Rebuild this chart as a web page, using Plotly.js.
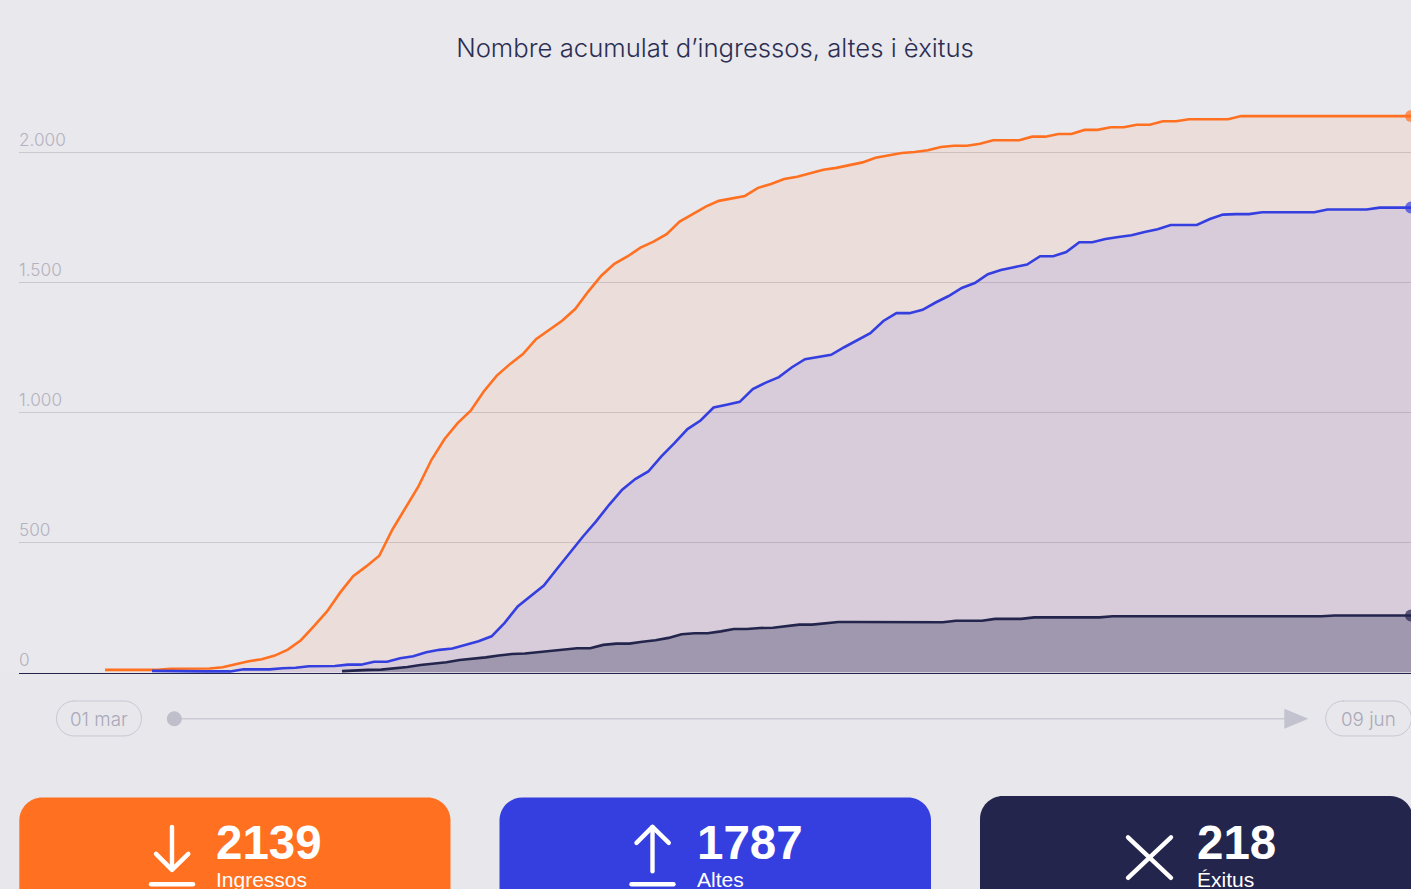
<!DOCTYPE html>
<html>
<head>
<meta charset="utf-8">
<script src="https://cdn.plot.ly/plotly-3.0.1.min.js"></script>
<style>
html,body{margin:0;padding:0;background:#E9E8ED;overflow:hidden}
#chart{width:1411px;height:889px}
.shapelayer path{stroke-linecap:round;stroke-linejoin:round}
</style>
</head>
<body>
<div id="chart"></div>
<script>
const chartTitle = "Nombre acumulat d’ingressos, altes i èxitus";
const dateLabels = ["01 mar", "09 jun"];
const yTicks = [0, 500, 1000, 1500, 2000];

const seriesNames = ["Ingressos", "Altes", "Èxitus"];
const totals = [2139, 1787, 218];
const cardLabels = ["Ingressos", "Altes", "Éxitus"];

// day offsets from 1 March at which each series starts
const ingressosStart = 0;
const altesStart = 3.6;
const exitusStart = 18.15;
const lastDay = 100;

const ingressos = [9,9,9,9,9,13,14,14,14,19,31,42,50,64,87,123,177,234,306,369,407,448,548,633,715,817,897,958,1006,1080,1141,1185,1224,1281,1317,1352,1397,1464,1525,1571,1599,1633,1656,1685,1733,1763,1791,1813,1823,1832,1863,1878,1897,1906,1919,1933,1940,1951,1961,1979,1988,1997,2001,2008,2020,2025,2025,2033,2046,2046,2046,2060,2060,2070,2070,2086,2086,2096,2096,2106,2106,2119,2119,2127,2127,2127,2127,2139,2139,2139,2139,2139,2139,2139,2139,2139,2139,2139,2139,2139];
const altes = [5,4,3,3,3,3,3,11,11,11,15,17,23,23,24,29,29,40,40,54,61,77,86,91,104,119,138,190,253,292,333,397,461,522,580,644,702,743,772,830,881,935,968,1018,1029,1040,1089,1114,1135,1173,1204,1213,1221,1250,1276,1304,1351,1381,1381,1394,1422,1447,1478,1497,1531,1547,1558,1568,1600,1600,1616,1654,1654,1666,1674,1681,1693,1704,1720,1720,1720,1743,1760,1762,1762,1769,1769,1769,1769,1769,1780,1780,1780,1780,1787,1787,1787];
const exitus = [4,7,9,10,14,20,28,32,38,47,51,57,64,70,72,77,82,87,92,92,105,110,110,117,123,132,146,150,150,157,166,166,170,171,176,183,183,188,193,193,193,193,192,192,192,192,192,198,198,198,205,205,205,211,211,211,211,211,211,215,215,215,215,215,215,215,215,215,215,215,215,215,215,215,215,215,218,218,218,218,218,218];

const ORANGE = "#FF7021", BLUE = "#353FE0", NAVY = "#23254D";
const W = 1411, H = 889;
const M = {l: 19, r: 0, t: 90, b: 215.5};
const PW = W - M.l - M.r, PH = H - M.t - M.b;
const px = x => (x - M.l) / PW;
const py = y => 1 - (y - M.t) / PH;
const P = (x, y) => px(x).toFixed(5) + "," + py(y).toFixed(5);

function daysFrom(start, n) {
  const out = [];
  for (let i = 0; i < n; i++) out.push(start + i);
  return out;
}
function lineTrace(name, start, values, color, fill) {
  let xs = daysFrom(start, values.length);
  let ys = values.slice();
  if (xs[xs.length - 1] < lastDay) { xs.push(lastDay); ys.push(values[values.length - 1]); }
  const sizes = ys.map((_, i) => i === ys.length - 1 ? 12 : 0);
  return {
    type: "scatter", mode: "lines+markers", name, x: xs, y: ys,
    line: {color, width: 2.6, shape: "linear"},
    marker: {color, size: sizes, line: {width: 0}},
    fill: "tozeroy", fillcolor: fill, hoverinfo: "x+y"
  };
}
const traces = [
  lineTrace(seriesNames[0], ingressosStart, ingressos, ORANGE, "rgba(255,112,33,0.09)"),
  lineTrace(seriesNames[1], altesStart, altes, BLUE, "rgba(53,63,224,0.10)"),
  lineTrace(seriesNames[2], exitusStart, exitus, NAVY, "rgba(35,37,77,0.31)")
];

// ----- decoration below the plot, in page pixels -----
const shapes = [];
function pathShape(d, opts) {
  shapes.push(Object.assign({type: "path", xref: "paper", yref: "paper", path: d, layer: "above"}, opts));
}
function card(x0, x1, top, color) {
  const r = 23, k = r * 0.448, b = 905;
  const d = "M" + P(x0, b) + " L" + P(x0, top + r) +
    " C" + P(x0, top + k) + " " + P(x0 + k, top) + " " + P(x0 + r, top) +
    " L" + P(x1 - r, top) +
    " C" + P(x1 - k, top) + " " + P(x1, top + k) + " " + P(x1, top + r) +
    " L" + P(x1, b) + " Z";
  pathShape(d, {fillcolor: color, line: {width: 0}});
}
function pill(x0, x1, y0, y1) {
  const r = (y1 - y0) / 2, k = r * 0.448;
  const d = "M" + P(x0 + r, y0) + " L" + P(x1 - r, y0) +
    " C" + P(x1 - k, y0) + " " + P(x1, y0 + k) + " " + P(x1, y0 + r) +
    " C" + P(x1, y1 - k) + " " + P(x1 - k, y1) + " " + P(x1 - r, y1) +
    " L" + P(x0 + r, y1) +
    " C" + P(x0 + k, y1) + " " + P(x0, y1 - k) + " " + P(x0, y0 + r) +
    " C" + P(x0, y0 + k) + " " + P(x0 + k, y0) + " " + P(x0 + r, y0) + " Z";
  pathShape(d, {fillcolor: "rgba(0,0,0,0)", line: {color: "#C9C8D3", width: 1}});
}
function stroke(points) {
  const d = "M" + points.map(p => P(p[0], p[1])).join(" L");
  pathShape(d, {line: {color: "#FFFFFF", width: 4.4}});
}
// slightly darker page band under the axis
shapes.push({type: "rect", xref: "paper", yref: "paper", layer: "below",
  x0: px(0), x1: px(1420), y0: py(674), y1: py(900), fillcolor: "#E8E7EC", line: {width: 0}});
// timeline
pathShape("M" + P(175, 719.3) + " L" + P(1290, 719.3), {line: {color: "#CBCAD4", width: 1.4}});
shapes.push({type: "circle", xref: "paper", yref: "paper", layer: "above",
  x0: px(166.8), x1: px(181.8), y0: py(726.8), y1: py(711.8), fillcolor: "#BFBECB", line: {width: 0}});
pathShape("M" + P(1284.3, 709.3) + " L" + P(1308.3, 719.3) + " L" + P(1284.3, 729.3) + " Z", {fillcolor: "#C3C2CF", line: {width: 0}});
pill(56.5, 141.5, 701.5, 736.5);
pill(1325.7, 1411.5, 701.5, 736.5);
// cards
card(19.3, 450.5, 798, ORANGE);
card(499.5, 931, 798, BLUE);
card(980, 1413, 796.5, NAVY);
// icons
stroke([[172, 827.5], [172, 870]]);
stroke([[156, 854.5], [172, 870.5], [188.3, 854.5]]);
stroke([[151, 885], [193, 885]]);
stroke([[652.5, 872], [652.5, 827.5]]);
stroke([[636.5, 843.5], [652.5, 827.5], [668.8, 843.5]]);
stroke([[631.5, 885], [673.5, 885]]);
stroke([[1128, 838], [1171, 878.5]]);
stroke([[1171, 838], [1128, 878.5]]);

// ----- text -----
const SANS = "Liberation Sans, Arial, sans-serif";
const LIGHT = "Inter, Liberation Sans, sans-serif";
const annotations = [];
function label(text, x, y, size, color, anchor, family, weight) {
  annotations.push({text, xref: "paper", yref: "paper", x: px(x), y: py(y),
    xanchor: anchor || "left", yanchor: "middle", showarrow: false, borderpad: 0, borderwidth: 0,
    font: {family: family || SANS, size, color, weight: weight || 400}});
}
label(dateLabels[0], 99, 720, 18.8, "#A9A9B9", "center", LIGHT, 300);
label(dateLabels[1], 1368, 720, 18.8, "#A9A9B9", "center", LIGHT, 300);
[216, 697, 1197].forEach((x, i) => {
  label(String(totals[i]), x, 843, 47.5, "#FFFFFF", "left", SANS, 700);
  label(cardLabels[i], x, 880.5, 21, "#FFFFFF", "left", SANS, 400);
});

const layout = {
  width: W, height: H, margin: M,
  paper_bgcolor: "#E9E8ED", plot_bgcolor: "rgba(0,0,0,0)",
  separators: ",.",
  showlegend: false,
  hovermode: "closest",
  title: {text: chartTitle, xref: "container", yref: "container", x: 715 / W, xanchor: "center",
    y: 1 - 48 / H, yanchor: "middle", font: {family: LIGHT, size: 25.7, color: "#2C2E52", weight: 300}},
  xaxis: {range: [(19 - 105) / 13.06, lastDay], showgrid: false, zeroline: false, showticklabels: false,
    ticks: "", showline: true, linecolor: NAVY, linewidth: 1, fixedrange: true},
  yaxis: {range: [(673.5 - 672.7) / -0.2602, (672.7 - 90) / 0.2602], tickvals: yTicks, tickformat: ",",
    ticklabelposition: "inside top", ticklabelstandoff: -3, showgrid: true, gridcolor: "#CAC9CF", gridwidth: 1, zeroline: false, ticks: "",
    tickfont: {family: LIGHT, size: 17.2, color: "#B3B2C0", weight: 300}, showline: false, fixedrange: true},
  shapes, annotations
};
Plotly.newPlot("chart", traces, layout, {displayModeBar: false, responsive: false});
</script>
</body>
</html>
